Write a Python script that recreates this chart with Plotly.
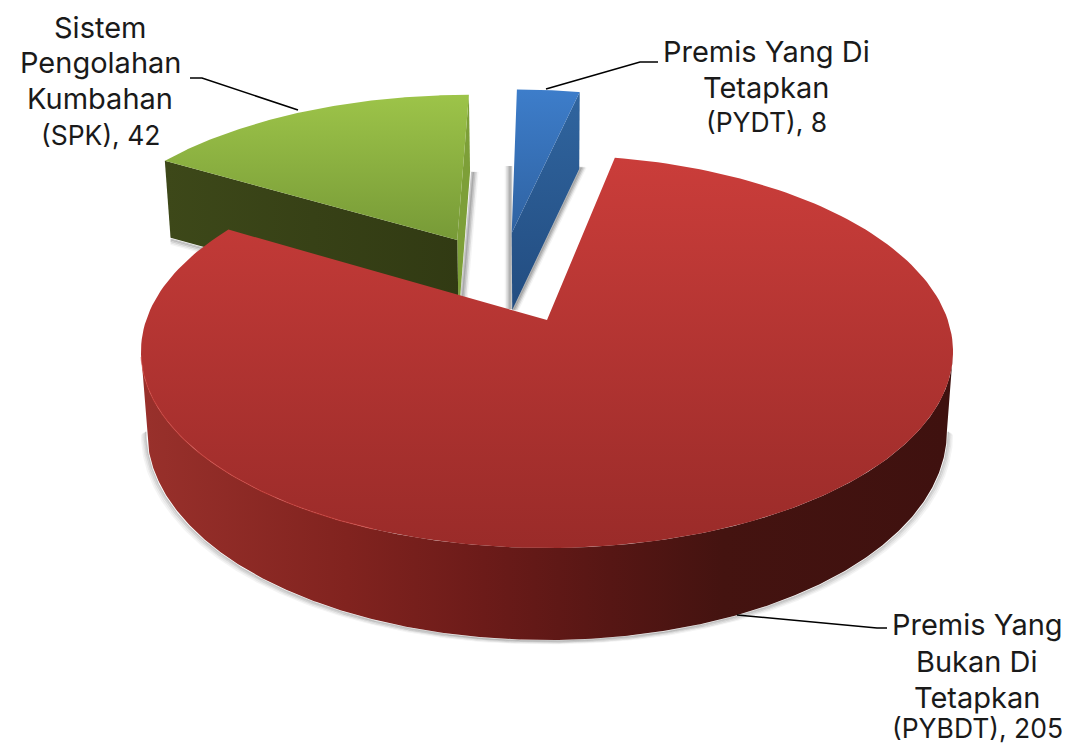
import numpy as np
import plotly.graph_objects as go

categories = ["Premis Yang Di|Tetapkan|(PYDT)", "Premis Yang|Bukan Di|Tetapkan|(PYBDT)", "Sistem|Pengolahan|Kumbahan|(SPK)"]
values = [8, 205, 42]
explode = [(-0.095, -0.49), (0.0, 0.0), (-0.24, -0.448)]
label_x = [766, 977, 100]
label_y = [[51, 87, 122], [624, 661, 697, 728], [27, 62, 98, 135]]
leaders = [([546, 640, 658], [89, 62, 62]), ([737, 877, 887], [615, 628, 628]), ([298, 202, 190], [110, 78, 78])]

CX, CY, K, A, C, D, S = 547.0, 320.0, 400.8, 140.3, -0.16, 77.0, 0.985
FONT = "Inter"
FS = 29
FS_LAST = 26.5


def top(u, v):
    den = 1 + C * v
    return CX + K * u / den, (A * v + CY) / den


def bottom(u, v):
    x, y = top(u, v)
    return CX + S * (x - CX), y + D + 15 * np.maximum(0, v)


def disk(theta, off, r=1.0):
    return off[0] + r * np.sin(theta), off[1] - r * np.cos(theta)


total = sum(values)
edges = np.cumsum([0] + values) / total * 2 * np.pi
fig = go.Figure()


def poly(x, y, grad=None, color=None):
    kw = dict(fillgradient=grad) if grad else dict(fillcolor=color)
    fig.add_trace(go.Scatter(x=list(x), y=list(y), mode="lines", fill="toself", line=dict(width=0),
                             hoverinfo="skip", showlegend=False, **kw))


def stroke(x, y, color, w):
    fig.add_trace(go.Scatter(x=list(x), y=list(y), mode="lines", line=dict(color=color, width=w),
                             hoverinfo="skip", showlegend=False))


def vgrad(y0, c0, y1, c1):
    return dict(type="vertical", start=y0, stop=y1, colorscale=[[0, c0], [1, c1]])


def hgrad(stops, x0, x1):
    return dict(type="horizontal", start=x0, stop=x1, colorscale=stops)


def wedge(i):
    t = np.linspace(edges[i], edges[i + 1], 200)
    u, v = disk(t, explode[i])
    x, y = top(u, v)
    ax, ay = top(*explode[i])
    return np.r_[ax, x, ax], np.r_[ay, y, ay]


def radial_face(i, edge):
    o = explode[i]
    u, v = disk(edges[edge], o)
    x0, y0 = top(*o)
    x1, y1 = top(u, v)
    x2, y2 = bottom(u, v)
    x3, y3 = bottom(*o)
    return [x0, x1, x2, x3, x0], [y0, y1, y2, y3, y0]


# silhouette angles of the disk under the perspective mapping
tilt = np.arcsin(-C)
t_side = np.linspace(np.pi / 2 + tilt, 3 * np.pi / 2 - tilt, 400)

# soft shadows
for k, alpha in zip([1.5, 3, 4.5, 6], [0.3, 0.22, 0.13, 0.06]):
    col = f"rgba(70,70,70,{alpha})"
    o = explode[0]
    ax, ay = bottom(*o)
    cu, cv = disk(edges[1], o)
    bx, by = bottom(cu, cv)
    stroke([bx + k, ax + k - 1], [by - 2, ay], col, 3)
    stroke([ax - k, ax - k], [by - 3, ay - 1], col, 3)
    o = explode[2]
    ax, ay = bottom(*o)
    cu, cv = disk(edges[2], o)
    lx, ly = bottom(cu, cv)
    ru, rv = disk(edges[3], o)
    rx, ry = bottom(ru, rv)
    stroke([rx + k + 1, ax + k], [ry, ay], col, 3)
    stroke([lx, ax], [ly + k, ay + k], col, 2)
    u, v = disk(t_side, explode[1])
    x, y = bottom(u, v)
    stroke(x - np.sign(CX - x) * k * 0.9, y + k * 0.6, col, 1.5)

# green
poly(*radial_face(2, 3), color="#7d9f38")
poly(*radial_face(2, 2), grad=hgrad([[0, "#3d4819"], [1, "#313a13"]], 165, 462))
poly(*wedge(2), grad=vgrad(94, "#9dc449", 240, "#779a37"))

# blue
poly(*radial_face(0, 1), grad=vgrad(92, "#30659f", 312, "#224c80"))
poly(*wedge(0), grad=vgrad(90, "#3d7dca", 235, "#2f62a1"))

# red
u, v = disk(t_side, explode[1])
tx, ty = top(u, v)
bx, by = bottom(u, v)
poly(np.r_[tx, bx[::-1], tx[0]], np.r_[ty, by[::-1], ty[0]],
     grad=hgrad([[0, "#98302b"], [0.25, "#81231f"], [0.42, "#6c1b19"], [0.58, "#561614"], [0.72, "#441310"], [1, "#3f110f"]], 147, 947))
poly(*wedge(1), grad=vgrad(158, "#ca3d3a", 548, "#9a2b29"))
t = np.linspace(np.pi * 1.12, np.pi * 1.44, 200)
u, v = disk(t, explode[1])
stroke(*top(u, v), "rgba(214,70,64,0.55)", 1.2)

for (lx, ly) in leaders:
    stroke(lx, ly, "#000000", 1.6)

annotations = []
for c, val, x, ys in zip(categories, values, label_x, label_y):
    lines = c.split("|")
    lines[-1] = f"{lines[-1]}, {val}"
    for n, (line, y) in enumerate(zip(lines, ys)):
        size = FS_LAST if n == len(lines) - 1 else FS
        annotations.append(dict(x=x, y=y, text=line, showarrow=False, xref="x", yref="y", align="center",
                                xanchor="center", yanchor="middle", font=dict(family=FONT, size=size, color="#1a1a1a")))

fig.update_layout(width=1073, height=747, margin=dict(l=0, r=0, t=0, b=0), paper_bgcolor="white", plot_bgcolor="white",
                  xaxis=dict(range=[0, 1073], visible=False), yaxis=dict(range=[747, 0], visible=False),
                  annotations=annotations, showlegend=False)
fig.write_html("out.html", config=dict(displayModeBar=False), post_script="document.body.style.margin='0';")
